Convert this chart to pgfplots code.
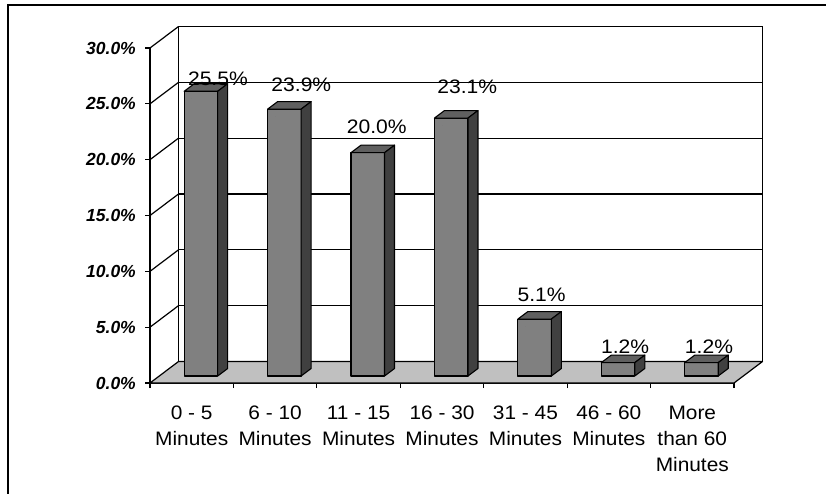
\documentclass[border=0pt]{standalone}
\usepackage{fontspec}
\setmainfont{Liberation Sans}
\newfontfamily\catfont[FakeStretch=1.07]{Liberation Sans}
\newfontfamily\valfont[FakeStretch=1.08]{Liberation Sans}
\usepackage{pgfplots}
\pgfplotsset{compat=1.18}
\usepackage{pgfplotstable}
\definecolor{barfront}{HTML}{808080}
\definecolor{bartop}{HTML}{606060}
\definecolor{barside}{HTML}{404040}
\definecolor{floorgray}{HTML}{C0C0C0}
\newcommand\cl[1]{\begin{tabular}{@{}c@{}}#1\end{tabular}}

\pgfplotstableread{
x v ldx ldy
0.5 25.5 26.2 13
1.5 23.9 26.2 25
2.5 20.0 18.2 26
3.5 23.1 25.2 32
4.5 5.1 16.2 25
5.5 1.2 16.2 16
6.5 1.2 16.7 16
}\datatable

\begin{document}
\begin{tikzpicture}
\useasboundingbox (0,0) rectangle (826pt,493pt);
\draw[line width=1.3pt] (8pt,-5pt) -- (8pt,488pt) -- (835pt,488pt);
\begin{axis}[
  at={(150pt,110pt)}, anchor=south west,
  width=584pt, height=335pt, scale only axis,
  xmin=0, xmax=7, ymin=0, ymax=30,
  clip=false,
  axis x line*=bottom, axis y line*=left,
  axis line style={-, line width=1.2pt, black},
  xtick={0,...,7}, x tick label as interval,
  xticklabels={\cl{0 - 5\\Minutes},\cl{6 - 10\\Minutes},\cl{11 - 15\\Minutes},\cl{16 - 30\\Minutes},\cl{31 - 45\\Minutes},\cl{46 - 60\\Minutes},\cl{More\\than 60\\Minutes}},
  ytick={0,5,...,30},
  yticklabels={0.0\%,5.0\%,10.0\%,15.0\%,20.0\%,25.0\%,30.0\%},
  tick align=outside, major tick length=5pt,
  tick style={line width=1.2pt, black},
  x tick label style={font=\catfont\fontsize{19.5}{26}\selectfont, inner sep=0pt, anchor=north, yshift=-13pt},
  y tick label style={font=\fontsize{17.5}{20}\selectfont\bfseries\itshape, inner sep=0pt, xshift=-9pt},
]
% floor
\filldraw[fill=floorgray, draw=black, line width=1.2pt, line join=round]
  (axis cs:0,0) -- (axis cs:7,0) -- ([shift={(28.5pt,21.5pt)}]axis cs:7,0)
  -- ([shift={(28.5pt,21.5pt)}]axis cs:0,0) -- cycle;
% back wall
\draw[line width=1.2pt] ([shift={(28.5pt,21.5pt)}]axis cs:0,0) rectangle ([shift={(28.5pt,21.5pt)}]axis cs:7,30);
\pgfplotsinvokeforeach{5,10,15,20,25}{
  \draw[line width=1.2pt] ([shift={(28.5pt,21.5pt)}]axis cs:0,#1) -- ([shift={(28.5pt,21.5pt)}]axis cs:7,#1);
}
% left wall
\pgfplotsinvokeforeach{5,10,15,20,25,30}{
  \draw[line width=1.2pt] (axis cs:0,#1) -- ([shift={(28.5pt,21.5pt)}]axis cs:0,#1);
}
% bars
\addplot[scatter, only marks, mark=*, mark size=0pt,
  visualization depends on={\thisrow{v} \as \val},
  scatter/@pre marker code/.code={%
    \pgfmathsetmacro\yb{7-\val*11.1667}%
    \pgfmathsetmacro\ybs{14.5-\val*11.1667}%
    \filldraw[fill=barfront, draw=black, fill opacity=1, draw opacity=1, line width=1.1pt, line join=round]
      (-7.55pt,7pt) rectangle (25.95pt,\yb pt);
    \filldraw[fill=bartop, draw=black, fill opacity=1, draw opacity=1, line width=1.1pt, line join=round]
      (-7.55pt,7pt) -- (25.95pt,7pt) -- (35.95pt,14.5pt) -- (2.45pt,14.5pt) -- cycle;
    \filldraw[fill=barside, draw=black, fill opacity=1, draw opacity=1, line width=1.1pt, line join=round]
      (25.95pt,7pt) -- (35.95pt,14.5pt) -- (35.95pt,\ybs pt) -- (25.95pt,\yb pt) -- cycle;
  },
  scatter/@post marker code/.code={},
] table[x=x,y=v] {\datatable};
% value labels
\addplot[draw=none, mark=none, point meta=\thisrow{v},
  visualization depends on={\thisrow{ldx} \as \ldx},
  visualization depends on={\thisrow{ldy} \as \ldy},
  nodes near coords={\pgfmathprintnumber[fixed,fixed zerofill,precision=1,assume math mode=true]{\pgfplotspointmeta}\%},
  every node near coord/.append style={anchor=base, xshift=\ldx pt, yshift=\ldy pt, font=\valfont\fontsize{19.5}{24}\selectfont, inner sep=0pt, text=black},
] table[x=x,y=v] {\datatable};
\end{axis}
\end{tikzpicture}
\end{document}
